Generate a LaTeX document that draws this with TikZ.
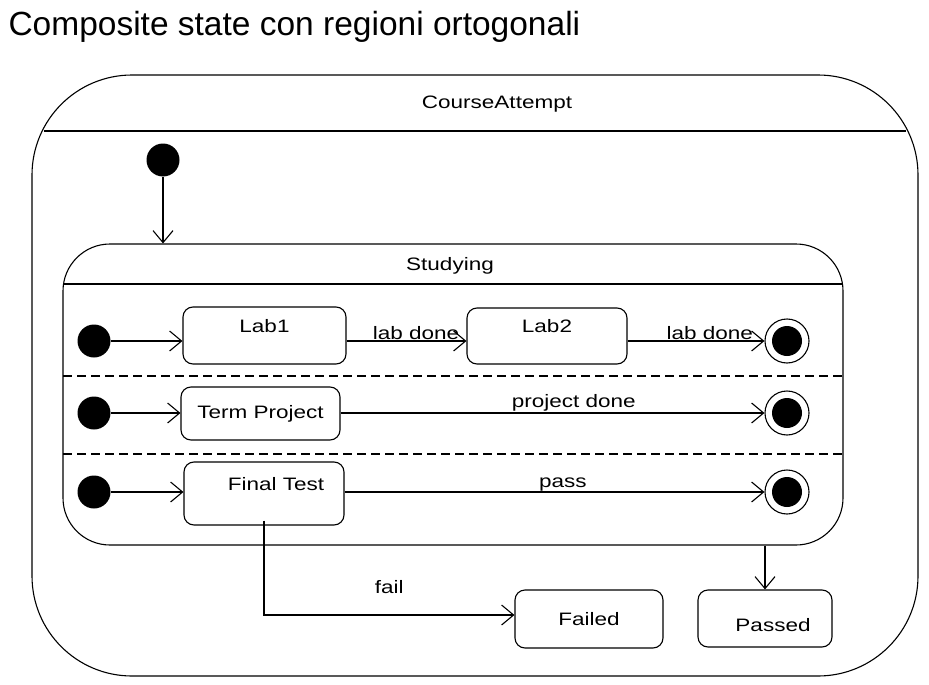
\documentclass[tikz,border=0pt]{standalone}
\usepackage{fontspec}
\setmainfont{Liberation Sans}
\newfontfamily\umlfont[FakeStretch=1.25]{Liberation Sans}
\usetikzlibrary{arrows.meta}

\begin{document}
\begin{tikzpicture}[
x=1pt, y=-1pt,
line width=1.1pt,
txt/.style={font=\umlfont\fontsize{18}{22}\selectfont, inner sep=1pt},
state/.style={txt, draw, rounded corners=10pt},
toptext/.style={text height=13pt, text depth=20pt},
initdot/.style={circle, fill=black, minimum size=33pt, inner sep=0pt},
final/.style={circle, draw, minimum size=44pt, inner sep=0pt,
	path picture={\fill (path picture bounding box.center) circle (15pt);}},
trans/.style={-{Straight Barb[length=12pt,width=20pt]}},
region/.style={dash pattern=on 9pt off 5pt, line width=1.5pt}
]
\useasboundingbox (0,0) rectangle (929,685);

\node[anchor=base west, inner sep=0pt, font=\fontsize{33.5}{40}\selectfont] (title) at (8,36)
	{Composite state con regioni ortogonali};

%%% CourseAttempt
\node[draw, rounded corners=100pt, minimum width=886pt, minimum height=601pt] (course) at (475,375.5) {};
\node[txt] (coursename) at (497,104) {CourseAttempt};
\draw (44,131) -- (906,131);
\node[initdot] (cinit) at (163,160) {};

%%% Studying
\node[draw, rounded corners=47pt, minimum width=780pt, minimum height=301pt] (studying) at (453,394.5) {};
\node[txt] (studyname) at (450,266) {Studying};
\draw (63,284) -- (843,284);
\draw[region] (63,376) -- (843,376);
\draw[region] (63,454) -- (843,454);
\draw[trans] (cinit) -- (cinit |- studying.north);

\foreach \i/\y in {1/341,2/413,3/492}{
	\node[initdot] (d\i) at (94,\y) {};
	\node[final] (f\i) at (787,\y) {};
}

\node[state, toptext, minimum width=163pt, minimum height=57pt] (lab1) at (264.5,335.5) {Lab1};
\node[state, toptext, minimum width=160pt, minimum height=56pt] (lab2) at (547,336) {Lab2};
\node[state, minimum width=159pt, minimum height=53pt] (term) at (260.5,413.5) {Term Project};
\node[state, toptext, minimum width=160pt, minimum height=63pt] (ftest) at (264,493.5) {\hspace*{24pt}Final Test};

\draw[trans] (d1) -- (d1 -| lab1.west);
\draw[trans] (lab1.east |- d1) -- node[txt, above, pos=0.58] (lbl1) {lab done} (lab2.west |- d1);
\draw[trans] (lab2.east |- d1) -- node[txt, above, pos=0.6] (lbl2) {lab done} (f1);
\draw[trans] (d2) -- (d2 -| term.west);
\draw[trans] (term.east |- d2) -- node[txt, above, pos=0.55] (lbl3) {project done} (f2);
\draw[trans] (d3) -- (d3 -| ftest.west);
\draw[trans] (ftest.east |- d3) -- node[txt, above, pos=0.52, yshift=-1pt] (lbl4) {pass} (f3);

%%% exits
\node[state, minimum width=148pt, minimum height=58pt] (failed) at (589,619) {Failed};
\node[state, minimum width=134pt, minimum height=57pt, text height=25pt, text depth=0pt] (passed) at (765,618.5) {\hspace*{16pt}Passed};

\draw[trans] ([yshift=5pt]ftest.south) |- node[txt, above=20pt, pos=0.75] (lbl5) {fail} ([yshift=4pt]failed.west);
\draw[trans] (passed.north |- studying.south) -- (passed.north);

\end{tikzpicture}
\end{document}
